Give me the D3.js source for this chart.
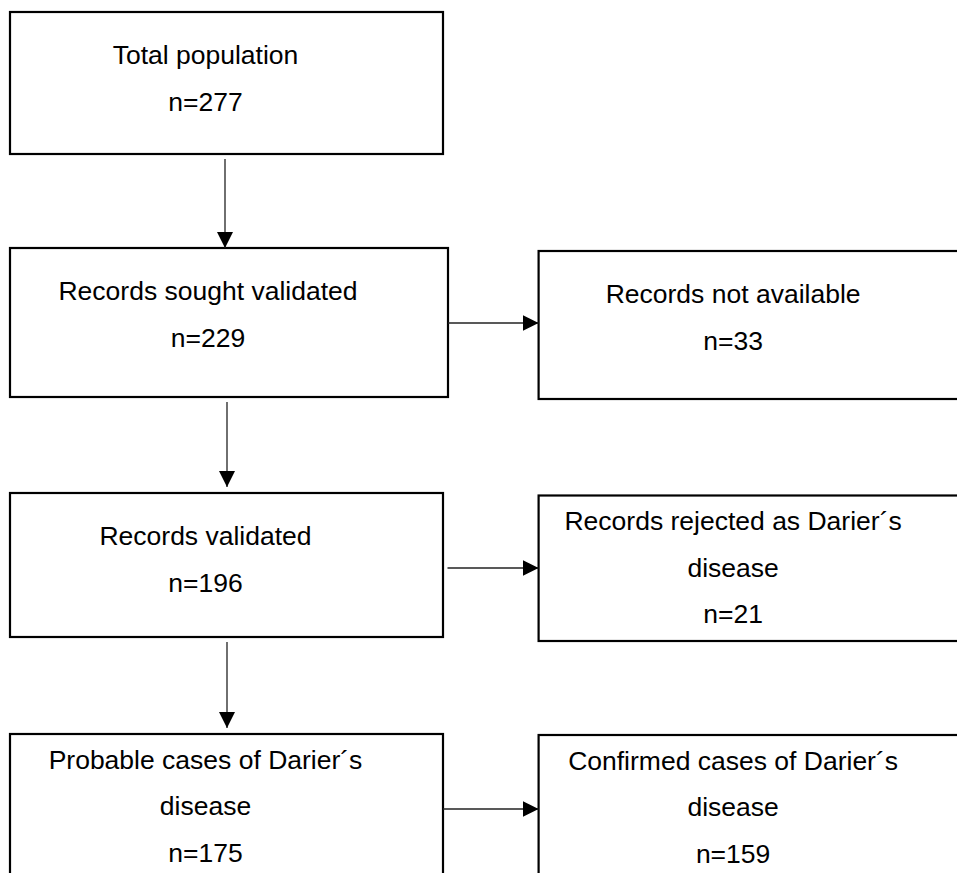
<!DOCTYPE html>
<html>
<head>
<meta charset="utf-8">
<script src="https://cdn.jsdelivr.net/npm/d3@7"></script>
<style>
  html, body { margin: 0; padding: 0; background: #fff; }
  svg { display: block; }
</style>
</head>
<body>
<div id="chart"></div>
<script>
// flow steps, left column (main path)
const mainLabels = [
  ["Total population"],
  ["Records sought validated"],
  ["Records validated"],
  ["Probable cases of Darier´s", "disease"]
];
const mainCounts = [277, 229, 196, 175];

// flow steps, right column (branch-offs), attached to rows 1..3
const sideLabels = [
  ["Records not available"],
  ["Records rejected as Darier´s", "disease"],
  ["Confirmed cases of Darier´s", "disease"]
];
const sideCounts = [33, 21, 159];
const sideRows = [1, 2, 3];

const W = 957, H = 873;

// layout
const colX = d3.scaleOrdinal().domain(["main", "side"]).range([10, 538.6]);
const mainTop = d3.scaleOrdinal().domain([0, 1, 2, 3]).range([12, 248, 493, 734]);
const mainBottom = d3.scaleOrdinal().domain([0, 1, 2, 3]).range([154, 397, 637, 890]);
const mainRight = d3.scaleOrdinal().domain([0, 1, 2, 3]).range([443, 448, 443, 443]);
const sideTop = d3.scaleOrdinal().domain([1, 2, 3]).range([251, 495.5, 735]);
const sideBottom = d3.scaleOrdinal().domain([1, 2, 3]).range([399, 641, 890]);
const boxW = 433;
const lineStep = 46.5;

const svg = d3.select("#chart")
  .append("svg")
  .attr("width", W)
  .attr("height", H);

// arrowheads
const defs = svg.append("defs");
defs.append("marker")
  .attr("id", "head")
  .attr("markerUnits", "userSpaceOnUse")
  .attr("viewBox", "0 0 16 16")
  .attr("refX", 16).attr("refY", 8)
  .attr("markerWidth", 16).attr("markerHeight", 16)
  .attr("orient", "auto")
  .append("path")
  .attr("d", "M0,0 L16,8 L0,16 Z")
  .attr("fill", "#000");

function drawBox(x0, y0, x1, y1) {
  svg.append("rect")
    .attr("x", x0).attr("y", y0)
    .attr("width", x1 - x0).attr("height", y1 - y0)
    .attr("fill", "none")
    .attr("stroke", "#000")
    .attr("stroke-width", 2.2);
}

function drawText(lines, n, cx, top) {
  const all = lines.concat(["n=" + n]);
  const first = all.length === 2 ? top + 52 : top + 34.5;
  svg.append("g").selectAll("text")
    .data(all)
    .enter().append("text")
      .attr("x", cx)
      .attr("y", (d, i) => first + i * lineStep)
      .attr("text-anchor", "middle")
      .style("font-family", "'Liberation Sans', Arial, sans-serif")
      .style("font-size", "26.5px")
      .attr("fill", "#000")
      .text(d => d);
}

function drawArrow(x0, y0, x1, y1) {
  svg.append("line")
    .attr("x1", x0).attr("y1", y0)
    .attr("x2", x1).attr("y2", y1)
    .attr("stroke", "#222")
    .attr("stroke-width", 1.3)
    .attr("marker-end", "url(#head)");
}

// main column boxes
mainLabels.forEach((lines, i) => {
  const x0 = colX("main");
  drawBox(x0, mainTop(i), mainRight(i), mainBottom(i));
  drawText(lines, mainCounts[i], x0 + (mainRight(i) - x0) / 2 - 21, mainTop(i));
});

// side column boxes
sideLabels.forEach((lines, i) => {
  const r = sideRows[i];
  const x0 = colX("side");
  drawBox(x0, sideTop(r), x0 + boxW, sideBottom(r));
  drawText(lines, sideCounts[i], x0 + boxW / 2 - 22, sideTop(r));
});

// vertical connectors
const vx = [225, 227, 227];
d3.range(3).forEach(i => {
  drawArrow(vx[i], mainBottom(i) + 5, vx[i], mainTop(i + 1) - (i === 0 ? 0 : 6));
});

// horizontal connectors
sideRows.forEach(r => {
  const y = mainTop(r) + 75;
  drawArrow(mainRight(r) + (r === 2 ? 4.5 : 0), y, colX("side"), y);
});
</script>
</body>
</html>
